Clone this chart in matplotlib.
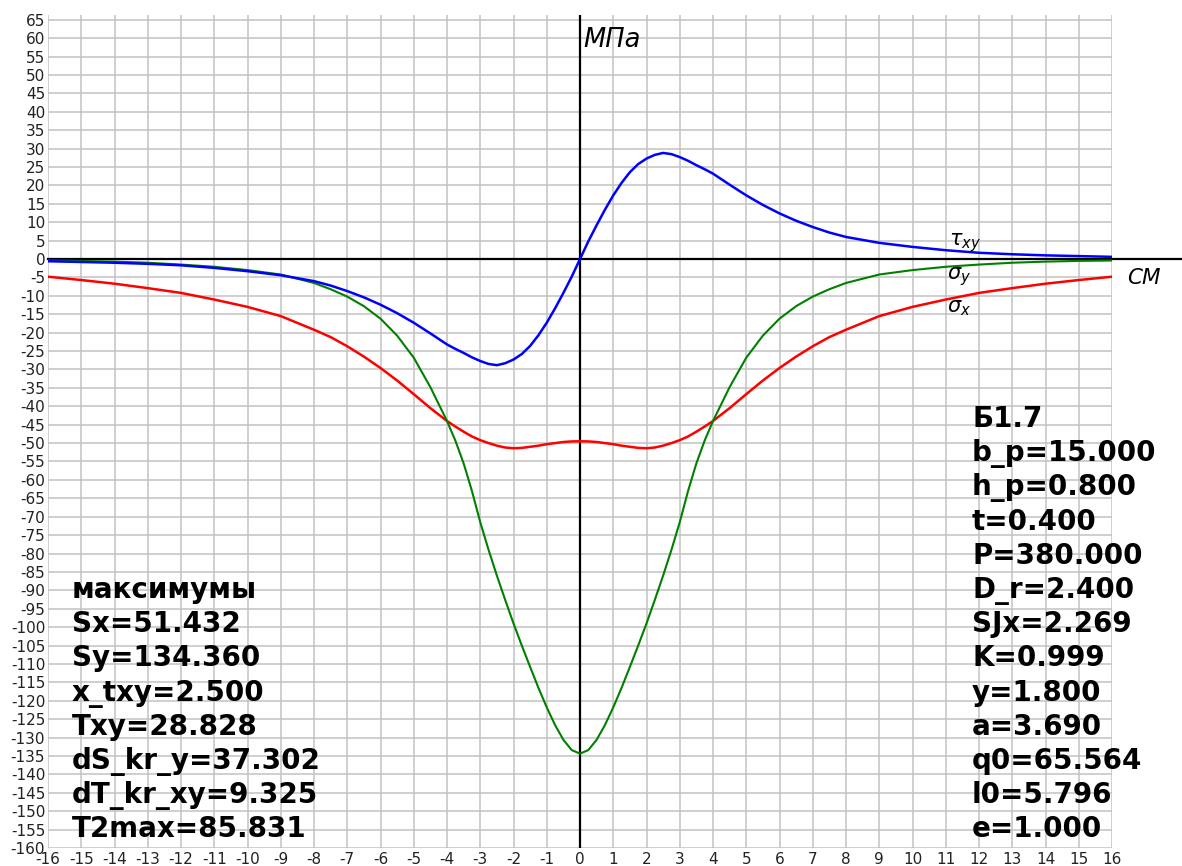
import matplotlib
matplotlib.use("Agg")
import matplotlib.pyplot as plt
import numpy as np

plt.rcParams["axes.unicode_minus"] = False

# coordinates along the plate, cm
x = [-16, -15, -14, -13, -12, -11, -10, -9, -8, -7.5, -7, -6.5, -6, -5.5, -5, -4.5,
     -4, -3.75, -3.5, -3.25, -3, -2.75, -2.5, -2.25, -2, -1.75, -1.5, -1.25, -1, -0.75,
     -0.5, -0.25, 0, 0.25, 0.5, 0.75, 1, 1.25, 1.5, 1.75, 2, 2.25, 2.5, 2.75, 3, 3.25,
     3.5, 3.75, 4, 4.5, 5, 5.5, 6, 6.5, 7, 7.5, 8, 9, 10, 11, 12, 13, 14, 15, 16]

# stresses, MPa
sigma_x = [-4.8, -5.7, -6.7, -7.9, -9.2, -11.0, -13.0, -15.5, -19.2, -21.2, -23.7, -26.5,
           -29.6, -33.0, -36.7, -40.5, -44.0, -45.5, -46.9, -48.2, -49.2, -50.0, -50.7,
           -51.2, -51.4, -51.3, -51.0, -50.7, -50.3, -50.0, -49.7, -49.55, -49.5,
           -49.55, -49.7, -50.0, -50.3, -50.7, -51.0, -51.3, -51.4, -51.2, -50.7, -50.0,
           -49.2, -48.2, -46.9, -45.5, -44.0, -40.5, -36.7, -33.0, -29.6, -26.5, -23.7,
           -21.2, -19.2, -15.5, -13.0, -11.0, -9.2, -7.9, -6.7, -5.7, -4.8]
sigma_y = [-0.4, -0.5, -0.7, -1.0, -1.5, -2.1, -3.0, -4.2, -6.5, -8.2, -10.2, -12.8,
           -16.2, -20.8, -26.8, -34.8, -44.0, -49.3, -55.5, -63.0, -71.5, -79.0, -86.0,
           -92.6, -99.0, -105.0, -110.8, -116.5, -121.8, -126.6, -130.6, -133.4, -134.36,
           -133.4, -130.6, -126.6, -121.8, -116.5, -110.8, -105.0, -99.0, -92.6, -86.0,
           -79.0, -71.5, -63.0, -55.5, -49.3, -44.0, -34.8, -26.8, -20.8, -16.2, -12.8,
           -10.2, -8.2, -6.5, -4.2, -3.0, -2.1, -1.5, -1.0, -0.7, -0.5, -0.4]
tau_xy = [-0.6, -0.8, -1.0, -1.3, -1.7, -2.4, -3.3, -4.4, -6.0, -7.2, -8.7, -10.4,
          -12.4, -14.7, -17.3, -20.2, -23.2, -24.4, -25.5, -26.7, -27.7, -28.5, -28.83,
          -28.3, -27.3, -25.8, -23.6, -20.7, -17.3, -13.4, -9.2, -4.8, 0.0,
          4.8, 9.2, 13.4, 17.3, 20.7, 23.6, 25.8, 27.3, 28.3, 28.83, 28.5, 27.7, 26.7,
          25.5, 24.4, 23.2, 20.2, 17.3, 14.7, 12.4, 10.4, 8.7, 7.2, 6.0, 4.4, 3.3, 2.4,
          1.7, 1.3, 1.0, 0.8, 0.6]

left_lines = ["максимумы", "Sx=51.432", "Sy=134.360", "x_txy=2.500", "Txy=28.828",
              "dS_kr_y=37.302", "dT_kr_xy=9.325", "T2max=85.831"]
right_lines = ["Б1.7", "b_p=15.000", "h_p=0.800", "t=0.400", "P=380.000", "D_r=2.400",
               "SJx=2.269", "K=0.999", "y=1.800", "a=3.690", "q0=65.564", "l0=5.796",
               "e=1.000"]

fig = plt.figure(figsize=(11.82, 8.66), dpi=100)
ax = fig.add_axes([48 / 1182, 18 / 866, 1064 / 1182, 833 / 866])
ax.set_xlim(-16, 16)
ax.set_ylim(-160, 66.3)
for s in ax.spines.values():
    s.set_visible(False)

ax.set_xticks(np.arange(-16, 17, 1))
ax.set_yticks(np.arange(-160, 66, 5))
ax.tick_params(length=0, labelsize=11, labelcolor="#222222", pad=2)
ax.tick_params(axis="x", pad=3)
ax.grid(True, color="#c2c2c2", linewidth=1.1)
ax.set_axisbelow(True)

# coordinate axes
ax.plot([-16, 18.2], [0, 0], color="black", lw=1.6, clip_on=False, zorder=2)
ax.axvline(0, color="black", lw=1.6, zorder=2)

ax.plot(x, sigma_x, color="#ff0000", lw=1.8, zorder=3)
ax.plot(x, sigma_y, color="#008000", lw=1.5, zorder=3)
ax.plot(x, tau_xy, color="#0000ff", lw=1.8, zorder=4)

ax.text(0.09, 59.5, "МПа", fontsize=18.5, style="italic", va="center", ha="left")
ax.text(16.45, -5.2, "СМ", fontsize=15.5, style="italic", va="center", ha="left",
        clip_on=False)

ax.text(11.1, 4.6, r"$\tau_{xy}$", fontsize=15, va="center", ha="left")
ax.text(11.05, -4.8, r"$\sigma_{y}$", fontsize=15, va="center", ha="left")
ax.text(11.05, -13.3, r"$\sigma_{x}$", fontsize=15, va="center", ha="left")

px_per_unit = 833 / 226.3
step = 34.2 / px_per_unit

y0 = (848 - 598) / px_per_unit - 160
for i, s in enumerate(left_lines):
    ax.text(-15.28, y0 - i * step, s, fontsize=20, fontweight="bold",
            va="baseline", ha="left")

y0 = (848 - 427) / px_per_unit - 160
for i, s in enumerate(right_lines):
    ax.text(11.79, y0 - i * step, s, fontsize=20, fontweight="bold",
            va="baseline", ha="left", clip_on=False)

fig.savefig("out.png", dpi=100)
